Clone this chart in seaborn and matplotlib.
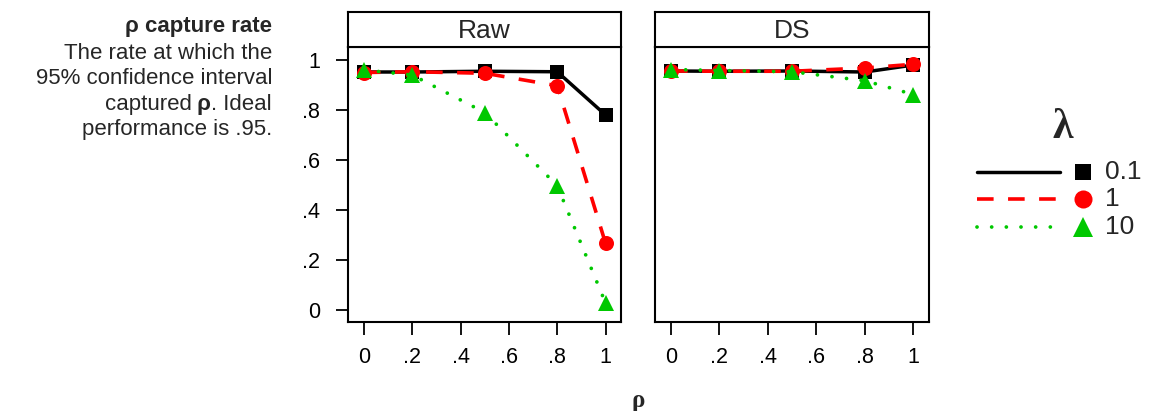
import numpy as np
import pandas as pd
import seaborn as sns
import matplotlib
matplotlib.use("Agg")
import matplotlib.pyplot as plt

# ---------------- data ----------------
rho_vals = [0, 0.2, 0.5, 0.8, 1.0]
lambdas = ["0.1", "1", "10"]
panels = ["Raw", "DS"]

raw_l01 = [0.952, 0.952, 0.955, 0.953, 0.780]
raw_l1 = [0.950, 0.953, 0.947, 0.897, 0.267]
raw_l10 = [0.960, 0.940, 0.790, 0.497, 0.028]

ds_l01 = [0.956, 0.955, 0.956, 0.952, 0.980]
ds_l1 = [0.956, 0.955, 0.955, 0.968, 0.983]
ds_l10 = [0.962, 0.958, 0.953, 0.917, 0.862]

xtick_vals = [0, 0.2, 0.4, 0.6, 0.8, 1.0]
xtick_labels = ["0", ".2", ".4", ".6", ".8", "1"]
ytick_vals = [0, 0.2, 0.4, 0.6, 0.8, 1.0]
ytick_labels = ["0", ".2", ".4", ".6", ".8", "1"]

series = {
    "Raw": {"0.1": raw_l01, "1": raw_l1, "10": raw_l10},
    "DS": {"0.1": ds_l01, "1": ds_l1, "10": ds_l10},
}
rows = []
for p in panels:
    for lam in lambdas:
        for x, y in zip(rho_vals, series[p][lam]):
            rows.append({"panel": p, "lam": lam, "rho": x, "rate": y})
df = pd.DataFrame(rows)

# ---------------- styles ----------------
colors = {"0.1": "#000000", "1": "#ff0000", "10": "#00c800"}
markers = {"0.1": "s", "1": "o", "10": "^"}
msizes = {"0.1": 9.6, "1": 10.8, "10": 12.0}
lstyles = {"0.1": "-", "1": (0, (4.6, 4.0)), "10": (0, (0.01, 3.9))}
lwidths = {"0.1": 2.5, "1": 2.6, "10": 2.7}
capstyle = {"0.1": "butt", "1": "butt", "10": "round"}

sns.set_style("white")
plt.rcParams["font.family"] = ["Liberation Sans", "DejaVu Sans"]

W, H = 1169, 411
fig = plt.figure(figsize=(W / 100, H / 100), dpi=100)


def fx(px):
    return px / W


def fy(py):
    return 1 - py / H


ax_left = {"Raw": 348, "DS": 655}
ax_right = {"Raw": 621, "DS": 929}
ax_top, ax_bot = 47, 322
strip_top = 12

for p in panels:
    x0, x1 = ax_left[p], ax_right[p]
    ax = fig.add_axes([fx(x0), fy(ax_bot), (x1 - x0) / W, (ax_bot - ax_top) / H])
    sub = df[df["panel"] == p]
    for lam in lambdas:
        d = sub[sub["lam"] == lam]
        sns.lineplot(data=d, x="rho", y="rate", ax=ax, color=colors[lam],
                     marker=markers[lam], markersize=msizes[lam],
                     markeredgecolor=colors[lam], markeredgewidth=0,
                     linewidth=lwidths[lam], linestyle=lstyles[lam],
                     dash_capstyle=capstyle[lam],
                     errorbar=None, legend=False)
    ax.set_xlim(-0.066, 1.064)
    ax.set_ylim(-0.048, 1.052)
    ax.set_xlabel("")
    ax.set_ylabel("")
    ax.set_xticks(xtick_vals)
    ax.set_xticklabels(xtick_labels, fontsize=15.5)
    if p == "Raw":
        ax.set_yticks(ytick_vals)
        ax.set_yticklabels(ytick_labels, fontsize=15.5)
        ax.tick_params(axis="y", left=True, direction="out", length=9,
                       width=1.3, pad=11, colors="black")
    else:
        ax.set_yticks([])
    ax.tick_params(axis="x", bottom=True, direction="out", length=9,
                   width=1.3, pad=9, colors="black")
    for s in ax.spines.values():
        s.set_color("black")
        s.set_linewidth(1.5)
    ax.set_facecolor("white")
    ax.grid(False)

    # strip
    sax = fig.add_axes([fx(x0), fy(ax_top), (x1 - x0) / W, (ax_top - strip_top) / H])
    sax.set_xticks([])
    sax.set_yticks([])
    for s in sax.spines.values():
        s.set_color("black")
        s.set_linewidth(1.5)
    sax.set_facecolor("white")
    sax.text(0.5, 0.47, p, ha="center", va="center", fontsize=19,
             transform=sax.transAxes)

# ---------------- left annotation ----------------
rx = fx(272)
fig.text(rx, fy(32), "ρ capture rate", ha="right", va="baseline",
         fontsize=16, fontweight="bold")
fig.text(rx, fy(59), "The rate at which the", ha="right", va="baseline", fontsize=16)
fig.text(rx, fy(84.5), "95% confidence interval", ha="right", va="baseline", fontsize=16)
fig.text(rx, fy(135.5), "performance is .95.", ha="right", va="baseline", fontsize=16)

renderer = fig.canvas.get_renderer()
cur = 272.0
pieces = [(". Ideal", "normal"), (" ρ", "bold"), ("captured", "normal")]
for txt, wt in pieces:
    t = fig.text(fx(cur), fy(110), txt, ha="right", va="baseline",
                 fontsize=16, fontweight=wt)
    bb = t.get_window_extent(renderer=renderer)
    cur -= bb.width

# ---------------- x label ----------------
fig.text(fx(638), fy(407), "ρ", ha="center", va="baseline", fontsize=18,
         fontweight="bold", family=["Liberation Serif", "DejaVu Serif"])

# ---------------- legend ----------------
lax = fig.add_axes([0, 0, 1, 1], facecolor="none")
lax.set_xlim(0, W)
lax.set_ylim(H, 0)
lax.axis("off")
lax.text(1063, 128, "λ", ha="center", va="center", fontsize=30,
         fontweight="bold", family=["Liberation Serif", "DejaVu Serif"])
row_y = {"0.1": 172, "1": 199, "10": 227}
leg_msize = {"0.1": 11.5, "1": 13.0, "10": 14.5}
for lam in lambdas:
    y = row_y[lam]
    lax.plot([977, 1060], [y, y], color=colors[lam], linewidth=lwidths[lam],
             linestyle=lstyles[lam], dash_capstyle=capstyle[lam])
    lax.plot([1083], [y], color=colors[lam], marker=markers[lam],
             markersize=leg_msize[lam], markeredgewidth=0, linestyle="none")
    lax.text(1105, y, lam, ha="left", va="center", fontsize=19)

fig.savefig("out.png", dpi=100, facecolor="white")
